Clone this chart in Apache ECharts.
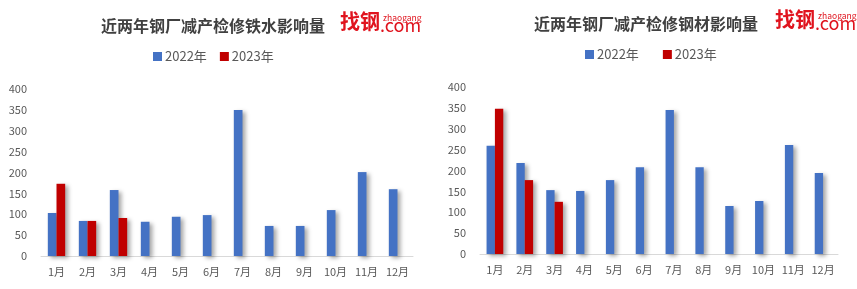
<!DOCTYPE html>
<html>
<head>
<meta charset="utf-8">
<script src="https://cdn.jsdelivr.net/npm/echarts@6/dist/echarts.min.js"></script>
<style>html,body{margin:0;padding:0;background:#fff}#c{width:857px;height:289px}</style>
</head>
<body>
<div id="c"></div>
<script>
var months = ['1月','2月','3月','4月','5月','6月','7月','8月','9月','10月','11月','12月'];
var ironTitle = '近两年钢厂减产检修铁水影响量';
var steelTitle = '近两年钢厂减产检修钢材影响量';
var seriesNames = ['2022年','2023年'];
var iron2022 = [103,84,158,82,94,98,350,72,72,110,201,160];
var iron2023 = [173,84,91,null,null,null,null,null,null,null,null,null];
var steel2022 = [259,218,153,151,177,208,345,208,115,127,261,194];
var steel2023 = [348,177,125,null,null,null,null,null,null,null,null,null];
var yTicks = [0,50,100,150,200,250,300,350,400];

var FONT = '"Noto Sans CJK SC", "Noto Sans", sans-serif';
var BLUE = '#4472C4', RED = '#C00000', GRAY = '#595959';
var chart = echarts.init(document.getElementById('c'));

function barSeries(name, data, idx, color) {
  return {
    name: name, type: 'bar', data: data, xAxisIndex: idx, yAxisIndex: idx,
    barWidth: '28%', barGap: '0%',
    itemStyle: { color: color, shadowColor: 'rgba(0,0,0,0.35)', shadowBlur: 4, shadowOffsetX: 3, shadowOffsetY: 2 }
  };
}
function yAx(idx) {
  return {
    type: 'value', gridIndex: idx, min: yTicks[0], max: yTicks[yTicks.length-1], interval: yTicks[1]-yTicks[0],
    axisLine: { show: false }, axisTick: { show: false }, splitLine: { show: false },
    axisLabel: { color: GRAY, fontSize: 11, fontFamily: FONT, margin: 14 }
  };
}
function xAx(idx) {
  return {
    type: 'category', gridIndex: idx, data: months,
    axisLine: { lineStyle: { color: '#D9D9D9', width: 1 } }, axisTick: { show: false },
    axisLabel: { color: GRAY, fontSize: 11, fontFamily: FONT, margin: 10, interval: 0 }
  };
}
function logo(x, y) {
  return {
    type: 'group', left: x, top: y,
    children: [
      { type: 'text', left: 0, top: 0, style: { text: '找钢', font: 'bold 20px ' + FONT, fill: '#E0141E' } },
      { type: 'text', left: 43, top: 3, style: { text: 'zhaogang', font: '8.5px ' + FONT, fill: '#E0141E' } },
      { type: 'text', left: 40, top: 5, style: { text: '.com', font: '18px ' + FONT, fill: '#E0141E' } }
    ]
  };
}

chart.setOption({
  animation: false,
  title: [
    { text: ironTitle, left: 208, top: 13, textAlign: 'center', textStyle: { fontSize: 16, fontWeight: 'bold', color: '#404040', fontFamily: FONT } },
    { text: steelTitle, left: 641, top: 11, textAlign: 'center', textStyle: { fontSize: 16, fontWeight: 'bold', color: '#404040', fontFamily: FONT } }
  ],
  legend: [
    { data: seriesNames, left: 153, top: 50, padding: 0, itemWidth: 9, itemHeight: 9, itemGap: 13, icon: 'rect',
      textStyle: { color: GRAY, fontSize: 13, fontFamily: FONT, padding: [0,0,0,-2] } },
    { data: seriesNames, left: 585, top: 48, padding: 0, itemWidth: 9, itemHeight: 9, itemGap: 24, icon: 'rect',
      textStyle: { color: GRAY, fontSize: 13, fontFamily: FONT, padding: [0,0,0,-2] } }
  ],
  grid: [
    { left: 41, right: 444, top: 89, bottom: 33 },
    { left: 480, right: 19, top: 87, bottom: 35 }
  ],
  xAxis: [xAx(0), xAx(1)],
  yAxis: [yAx(0), yAx(1)],
  series: [
    barSeries(seriesNames[0], iron2022, 0, BLUE),
    barSeries(seriesNames[1], iron2023, 0, RED),
    barSeries(seriesNames[0], steel2022, 1, BLUE),
    barSeries(seriesNames[1], steel2023, 1, RED)
  ],
  graphic: [logo(340, 11), logo(775, 9)]
});
</script>
</body>
</html>
